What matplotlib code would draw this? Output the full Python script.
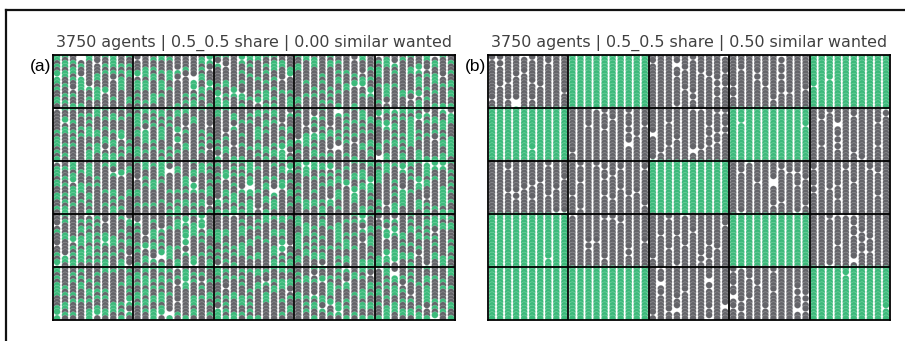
import numpy as np
import matplotlib
matplotlib.use("Agg")
import matplotlib.pyplot as plt
from matplotlib.lines import Line2D

# ---- data ----
n_agents = 3750
share_label = "0.5_0.5"
similar_wanted = [0.00, 0.50]
panel_labels = ["(a)", "(b)"]
n_blocks = 5                 # 5 x 5 neighbourhood blocks
cols_per_block = 10
rows_per_block = 16
# panel (b): 1 = block fully green, 0 = block grey (rows top -> bottom)
b_green_blocks = [
    [0, 1, 0, 0, 1],
    [1, 0, 0, 1, 0],
    [0, 0, 1, 0, 0],
    [1, 0, 0, 1, 0],
    [1, 1, 0, 0, 1],
]
a_green_share = 0.38         # visual share of green in the mixed panel
a_empty_share = 0.05
b_empty_share_grey = 0.10
b_empty_share_green = 0.005

GREY = "#646469"
GREEN = "#3cba7b"

# simulation state (agent layout inside blocks), fixed seed for reproducibility
rng = np.random.default_rng(11)

ncol = n_blocks * cols_per_block
nrow = n_blocks * rows_per_block

def layout_a():
    state = np.ones((nrow, ncol), dtype=int)  # 0 empty, 1 grey, 2 green
    u = rng.random((nrow, ncol))
    v = rng.random((nrow, ncol))
    state[v < a_green_share] = 2
    state[u < a_empty_share] = 0
    return state

def layout_b():
    state = np.zeros((nrow, ncol), dtype=int)
    u = rng.random((nrow, ncol))
    for bi in range(n_blocks):
        for bj in range(n_blocks):
            rs = slice(bi * rows_per_block, (bi + 1) * rows_per_block)
            cs = slice(bj * cols_per_block, (bj + 1) * cols_per_block)
            if b_green_blocks[bi][bj]:
                state[rs, cs] = 2
                state[rs, cs][u[rs, cs] < b_empty_share_green] = 0
            else:
                state[rs, cs] = 1
                state[rs, cs][u[rs, cs] < b_empty_share_grey] = 0
    return state

states = [layout_a(), layout_b()]

fig = plt.figure(figsize=(9.05, 3.41), dpi=100)
W, H = 905, 341
ax_rects = [(53, 55, 402, 265), (488, 55, 402, 265)]

for k, (x0, y0, w, h) in enumerate(ax_rects):
    ax = fig.add_axes([x0 / W, 1 - (y0 + h) / H, w / W, h / H])
    st = states[k]
    rr, cc = np.nonzero(st > 0)
    order = np.lexsort((cc, rr))
    rr, cc = rr[order], cc[order]
    colors = np.where(st[rr, cc] == 2, GREEN, GREY)
    ax.scatter(cc + 0.5, rr + 0.5, s=23, c=list(colors),
               edgecolors=(1, 1, 1, 0.35), linewidths=0.4, zorder=2)
    ax.set_xlim(0, ncol)
    ax.set_ylim(nrow, 0)
    ax.set_xticks([])
    ax.set_yticks([])
    for i in range(1, n_blocks):
        ax.axvline(i * cols_per_block, color="black", lw=1.3, zorder=3)
        ax.axhline(i * rows_per_block, color="black", lw=1.3, zorder=3)
    for sp in ax.spines.values():
        sp.set_linewidth(1.3)
        sp.set_color("black")
        sp.set_zorder(4)
    ax.set_title(f"{n_agents} agents | {share_label} share | {similar_wanted[k]:.2f} similar wanted",
                 fontsize=11.4, color="#404040", pad=6, family="DejaVu Sans")
    fig.text((x0 - 2) / W, 1 - 66 / H, panel_labels[k], ha="right", va="center",
             fontsize=12.5, family="Liberation Sans", color="black")

# outer frame (top and left edges)
fig.add_artist(Line2D([6 / W, 1], [1 - 10 / H, 1 - 10 / H], transform=fig.transFigure,
                      color="#111111", lw=1.6))
fig.add_artist(Line2D([6 / W, 6 / W], [0, 1 - 10 / H], transform=fig.transFigure,
                      color="#111111", lw=1.6))

fig.savefig("out.png", dpi=100)
